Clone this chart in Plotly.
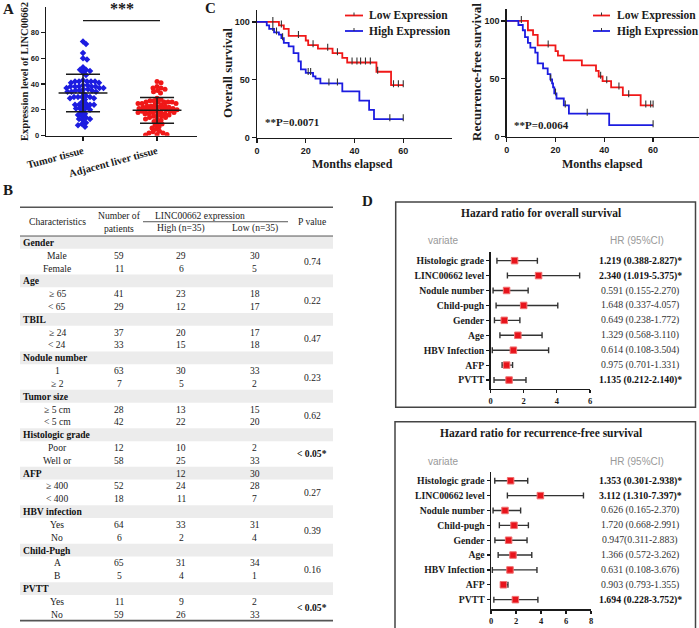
import numpy as np
import plotly.graph_objects as go

W, H = 699, 628
SERIF = "Liberation Serif"
SANS = "Liberation Sans"
INK = "#1a1a1a"
RED = "#f01818"
BLUE = "#1c1ce0"

# ---------------- Panel A data ----------------
groups_a = ["Tumor tissue", "Adjacent liver tissue"]
ylabel_a = "Expression level of LINC00662"
sig_label = "***"
tumor_vals = [73, 71, 64, 60, 59, 53, 51, 51, 50, 49, 47,
              43, 42, 42, 42, 42, 42, 41, 41,
              39, 39, 38, 38, 38, 38, 38, 37, 37, 37,
              36, 36, 35, 35, 35, 34, 34, 34, 33,
              31, 30, 30, 30, 30, 29, 29, 28,
              26, 25, 24, 24, 24, 24, 23, 22, 21, 21, 20, 20,
              18, 17, 16, 15, 14, 13, 13, 12, 10, 9, 8, 7]
adjacent_vals = [42, 41, 38, 37, 37, 36, 35, 34, 33,
                 29, 28, 27, 27, 26, 26, 26, 26, 26, 25, 25, 25,
                 24, 24, 23, 23, 23, 22, 22, 22, 21, 21, 21, 21, 20, 20, 20, 20,
                 19, 19, 19, 18, 18, 18, 18, 17, 17, 17, 16, 16,
                 15, 15, 14, 14, 13, 13, 12, 11,
                 10, 9, 8, 7, 6, 5, 3.5, 3, 2, 2, 1, 1, 0.5]

# ---------------- Panel C data ----------------
km_names = ["Low Expression", "High Expression"]
km_xlabel = "Months elapsed"
os_ylabel = "Overall survival"
rfs_ylabel = "Recurrence-free survival"
os_p = "**P=0.0071"
rfs_p = "**P=0.0064"

os_low_t = [0, 9, 11, 13, 20, 21, 25, 31, 35, 37, 49, 55, 60]
os_low_s = [100, 97, 94, 88, 84, 80, 77, 73, 69, 65, 57, 45.5, 45.5]
os_low_c = [6.5, 10, 17, 23, 29, 33, 39, 41, 42.5, 44.5, 46.5, 49.5, 56, 58, 60]
os_high_t = [0, 4, 5, 7, 9, 10, 11, 13, 15, 17, 18, 20, 23, 24, 26, 35, 42, 46, 48, 60]
os_high_s = [100, 97, 94, 91, 89, 86, 82, 79, 73, 66, 59, 56, 53, 51, 47, 40, 32, 24, 16, 16]
os_high_c = [6.5, 8, 10.5, 21, 22, 29.5, 33, 54.5, 60]

rfs_low_t = [0, 8.7, 10.8, 12.7, 20, 21, 23.4, 30.8, 36.6, 37.7, 39.3, 42.8, 47.6, 54.9, 60]
rfs_low_s = [100, 92, 88, 79, 74, 70, 66, 61.7, 56.8, 52, 48, 42.7, 36, 27, 27]
rfs_low_c = [6, 17, 38.5, 41, 46, 50, 57, 59, 60]
rfs_high_t = [0, 4.8, 6.6, 7.5, 8.7, 9.7, 11.7, 12.7, 14.9, 16.8, 17.9, 18.6, 19, 19.5, 20.4, 23.4, 25.5, 42, 60]
rfs_high_s = [100, 96.5, 92, 86, 81, 77, 72.6, 63.4, 59, 54, 49.6, 46, 42.7, 37.5, 33, 27, 20, 10, 10]
rfs_high_c = [18, 20, 24, 33, 60]

# ---------------- Panel B data ----------------
tbl_head = ["Characteristics", "Number of", "patients", "LINC00662 expression",
            "High (n=35)", "Low (n=35)", "P value"]
group_names = ["Gender", "Age", "TBIL", "Nodule number", "Tumor size",
               "Histologic grade", "AFP", "HBV infection", "Child-Pugh", "PVTT"]
group_high = ["", "", "", "", "", "", "12", "", "", ""]
group_low = ["", "", "", "", "", "", "30", "", "", ""]
sub_labels = [["Male", "Female"], ["≥ 65", "< 65"], ["≥ 24", "< 24"], ["1", "≥ 2"],
              ["≥ 5 cm", "< 5 cm"], ["Poor", "Well or"], ["≥ 400", "< 400"],
              ["Yes", "No"], ["A", "B"], ["Yes", "No"]]
sub_n = [[59, 11], [41, 29], [37, 33], [63, 7], [28, 42], [12, 58], [52, 18], [64, 6], [65, 5], [11, 59]]
sub_high = [[29, 6], [23, 12], [20, 15], [30, 5], [13, 22], [10, 25], [24, 11], [33, 2], [31, 4], [9, 26]]
sub_low = [[30, 5], [18, 17], [17, 18], [33, 2], [15, 20], [2, 33], [28, 7], [31, 4], [34, 1], [2, 33]]
p_values = ["0.74", "0.22", "0.47", "0.23", "0.62", "< 0.05*", "0.27", "0.39", "0.16", "< 0.05*"]

# ---------------- Panel D data ----------------
hr_vars = ["Histologic grade", "LINC00662 level", "Nodule number", "Child-pugh",
           "Gender", "Age", "HBV Infection", "AFP", "PVTT"]
os_title = "Hazard ratio for overall survival"
rfs_title = "Hazard ratio for recurrence-free survival"
os_pt = [1.45, 2.9, 0.97, 2.0, 0.83, 1.65, 1.38, 0.97, 1.12]
os_lo = [0.388, 1.019, 0.155, 0.337, 0.238, 0.568, 0.108, 0.701, 0.212]
os_hi = [2.827, 5.375, 2.270, 4.057, 1.772, 3.110, 3.504, 1.331, 2.140]
os_text = ["1.219 (0.388-2.827)*", "2.340 (1.019-5.375)*", "0.591 (0.155-2.270)",
           "1.648 (0.337-4.057)", "0.649 (0.238-1.772)", "1.329 (0.568-3.110)",
           "0.614 (0.108-3.504)", "0.975 (0.701-1.331)", "1.135 (0.212-2.140)*"]
rfs_pt = [1.57, 3.95, 1.12, 1.84, 1.41, 1.76, 1.52, 0.99, 1.95]
rfs_lo = [0.301, 1.310, 0.165, 0.668, 0.311, 0.572, 0.108, 0.793, 0.228]
rfs_hi = [2.938, 7.397, 2.370, 2.991, 2.883, 3.262, 3.676, 1.355, 3.752]
rfs_text = ["1.353 (0.301-2.938)*", "3.112 (1.310-7.397)*", "0.626 (0.165-2.370)",
            "1.720 (0.668-2.991)", "0.947(0.311-2.883)", "1.366 (0.572-3.262)",
            "0.631 (0.108-3.676)", "0.903 (0.793-1.355)", "1.694 (0.228-3.752)*"]


def fx(p):
    return p / W


def fy(p):
    return 1 - p / H


def swarm(vals, center, xscale, yscale, d):
    vals = np.asarray(vals, float)
    order = np.argsort(-vals, kind="stable")
    placed = []
    xs = np.zeros(len(vals))
    for i in order:
        y = vals[i] * yscale
        near = [(a, b) for a, b in placed if abs(b - y) < d]
        k = 0
        while True:
            cands = [0.0] if k == 0 else [k * 0.5, -k * 0.5]
            found = None
            for off in cands:
                if all((off - a) ** 2 + (y - b) ** 2 >= d * d for a, b in near):
                    found = off
                    break
            if found is not None:
                break
            k += 1
        placed.append((found, y))
        xs[i] = center + found / xscale
    return xs


fig = go.Figure()
ann = []
shapes = []


def pann(px_, py_, text, font, xanchor="center", yanchor="middle", **kw):
    d = dict(x=fx(px_), y=fy(py_), xref="paper", yref="paper", text=text, showarrow=False,
             xanchor=xanchor, yanchor=yanchor, font=font)
    d.update(kw)
    ann.append(d)


# ---------------- Panel A ----------------
XS_A, YS_A = 74.0, 1.2925
for idx, (vals, col, sym) in enumerate([(tumor_vals, BLUE, "diamond"), (adjacent_vals, RED, "circle")]):
    xs = swarm(vals, idx, XS_A, YS_A, 3.9)
    fig.add_trace(go.Scatter(x=xs, y=vals, mode="markers", xaxis="x", yaxis="y",
                             marker=dict(symbol=sym, size=5, color=col, line=dict(width=0)),
                             showlegend=False, hoverinfo="skip"))
    m = float(np.mean(vals))
    sd = float(np.std(vals, ddof=1))
    ex, ey = [], []
    ex += [idx - 0.33, idx + 0.33, None]; ey += [m, m, None]
    ex += [idx - 0.23, idx + 0.23, None]; ey += [m + sd, m + sd, None]
    ex += [idx - 0.23, idx + 0.23, None]; ey += [m - sd, m - sd, None]
    ex += [idx, idx, None]; ey += [m - sd, m + sd, None]
    fig.add_trace(go.Scatter(x=ex, y=ey, mode="lines", xaxis="x", yaxis="y",
                             line=dict(color=INK, width=1.5), showlegend=False, hoverinfo="skip"))

shapes.append(dict(type="line", xref="x", yref="y", x0=0, x1=1.04, y0=89, y1=89,
                   line=dict(color=INK, width=1.3)))
ann.append(dict(x=0.52, y=90, xref="x", yref="y", text=sig_label, showarrow=False,
                xanchor="center", yanchor="bottom",
                font=dict(family=SERIF, size=16, color=INK, weight="bold")))
pann(25, 72, ylabel_a, dict(family=SERIF, size=10.5, color=INK, weight="bold"), textangle=-90)

# ---------------- Panel C ----------------
def step_at(ts, ss, t):
    i = int(np.searchsorted(ts, t, side="right")) - 1
    return ss[max(i, 0)]


km_sets = [
    ("x2", "y2", [(os_low_t, os_low_s, os_low_c, RED), (os_high_t, os_high_s, os_high_c, BLUE)]),
    ("x3", "y3", [(rfs_low_t, rfs_low_s, rfs_low_c, RED), (rfs_high_t, rfs_high_s, rfs_high_c, BLUE)]),
]
for xa, ya, curves in km_sets:
    for ts, ss, cs, col in curves:
        fig.add_trace(go.Scatter(x=ts, y=ss, mode="lines", line_shape="hv", xaxis=xa, yaxis=ya,
                                 line=dict(color=col, width=1.8), showlegend=False, hoverinfo="skip"))
        cy = [step_at(ts, ss, c) + 1.2 for c in cs]
        fig.add_trace(go.Scatter(x=cs, y=cy, mode="markers", xaxis=xa, yaxis=ya,
                                 marker=dict(symbol="line-ns", size=5, line=dict(width=1.1, color="#333")),
                                 showlegend=False, hoverinfo="skip"))

LEG_F = dict(family=SERIF, size=11.5, color=INK, weight="bold")
for (lx0, lx1, tx) in [(345, 363, 367), (593, 610, 615)]:
    for k, (name, col) in enumerate(zip(km_names, [RED, BLUE])):
        yy = 15.5 + k * 15.5
        shapes.append(dict(type="line", xref="paper", yref="paper", x0=fx(lx0), x1=fx(lx1),
                           y0=fy(yy), y1=fy(yy), line=dict(color=col, width=1.8)))
        shapes.append(dict(type="line", xref="paper", yref="paper", x0=fx((lx0 + lx1) / 2),
                           x1=fx((lx0 + lx1) / 2), y0=fy(yy), y1=fy(yy - 3),
                           line=dict(color="#333", width=1)))
        pann(tx, yy, name, LEG_F, xanchor="left")

PF = dict(family=SERIF, size=11, color=INK, weight="bold")
pann(263, 122, os_p, PF, xanchor="left")
pann(512, 125, rfs_p, PF, xanchor="left")
YT = dict(family=SERIF, size=13, color=INK, weight="bold")
pann(227, 73, os_ylabel, YT, textangle=-90)
pann(477, 72, rfs_ylabel, YT, textangle=-90)
XT = dict(family=SERIF, size=12, color=INK, weight="bold")
pann(353, 164, km_xlabel, XT)
pann(602, 164, km_xlabel, XT)

# ---------------- Panel B table ----------------
TF = dict(family=SERIF, size=9.6, color="#222")
TFB = dict(family=SERIF, size=9.6, color="#111", weight="bold")
COL_SUB, COL_N, COL_HI, COL_LO, COL_P = 57, 119, 181, 254.5, 312
TX0, TX1 = 20, 333


def tann(x, y, text, font=TF, xanchor="center"):
    ann.append(dict(x=x, y=y, xref="x6", yref="y6", text=text, showarrow=False,
                    xanchor=xanchor, yanchor="middle", font=font))


tann(COL_SUB, -1.115, tbl_head[0])
tann(COL_N, -1.6, tbl_head[1])
tann(COL_N, -0.62, tbl_head[2])
tann(200, -1.6, tbl_head[3])
tann(COL_HI, -0.62, tbl_head[4])
tann(COL_LO, -0.62, tbl_head[5])
tann(COL_P, -1.115, tbl_head[6])

row = 0
for g in range(len(group_names)):
    shapes.append(dict(type="rect", xref="x6", yref="y6", x0=TX0, x1=TX1, y0=row, y1=row + 1,
                       fillcolor="#ececec", line=dict(width=0), layer="below"))
    tann(TX0 + 1, row + 0.5, group_names[g], TFB, "left")
    if group_high[g]:
        tann(COL_HI, row + 0.5, group_high[g])
    if group_low[g]:
        tann(COL_LO, row + 0.5, group_low[g])
    for j in range(2):
        r = row + 1 + j + 0.5
        tann(COL_SUB, r, sub_labels[g][j])
        tann(COL_N, r, str(sub_n[g][j]))
        tann(COL_HI, r, str(sub_high[g][j]))
        tann(COL_LO, r, str(sub_low[g][j]))
    pv = p_values[g]
    tann(COL_P, row + 2, pv, TFB if "*" in pv else TF)
    row += 3
n_rows = row

for (y, x0, x1, w) in [(-2.24, TX0, TX1, 1.6), (-1.115, 143, 288, 1.0), (0, TX0, TX1, 1.0),
                       (n_rows, TX0, TX1, 1.6)]:
    shapes.append(dict(type="line", xref="x6", yref="y6", x0=x0, x1=x1, y0=y, y1=y,
                       line=dict(color="#555", width=w)))

# ---------------- Panel D ----------------
for xa, ya, pts, lo, hi, texts, title, box, ttl_y, var_y in [
    ("x4", "y4", os_pt, os_lo, os_hi, os_text, os_title, (395.7, 695.5, 202, 407.3), 213.3, 241),
    ("x5", "y5", rfs_pt, rfs_lo, rfs_hi, rfs_text, rfs_title, (395, 695.5, 421.7, 640), 433.3, 461),
]:
    yy = list(range(len(hr_vars)))
    fig.add_trace(go.Scatter(
        x=pts, y=yy, mode="markers", xaxis=xa, yaxis=ya, showlegend=False, hoverinfo="skip",
        marker=dict(symbol="square", size=6.5, color="#e8141c", line=dict(width=1, color="#f07070")),
        error_x=dict(type="data", symmetric=False,
                     array=[h - p for h, p in zip(hi, pts)],
                     arrayminus=[p - l for p, l in zip(pts, lo)],
                     color="#333", thickness=1.4, width=3)))
    shapes.append(dict(type="rect", xref="paper", yref="paper", x0=fx(box[0]), x1=fx(box[1]),
                       y0=fy(box[3]), y1=fy(box[2]), line=dict(color="#444", width=1.5)))
    pann(541, ttl_y, title, dict(family=SERIF, size=11.5, color=INK, weight="bold"))
    pann(443, var_y, "variate", dict(family=SANS, size=10, color="#999"))
    pann(637, var_y, "HR (95%CI)", dict(family=SANS, size=10, color="#999"))
    for i, t in enumerate(texts):
        sig = t.endswith("*")
        ann.append(dict(x=fx(640), y=i, xref="paper", yref=ya, text=t, showarrow=False,
                        xanchor="center", yanchor="middle",
                        font=dict(family=SERIF, size=9.8, color="#111" if sig else "#333",
                                  weight="bold" if sig else "normal")))

# panel letters
for L, px_, py_ in [("A", 8, 9), ("B", 8, 190), ("C", 211, 8), ("D", 367, 201)]:
    pann(px_, py_, L, dict(family=SERIF, size=15, color=INK, weight="bold"))

# ---------------- axes ----------------
base = dict(showline=True, linecolor=INK, linewidth=1.4, ticks="outside", ticklen=4, tickwidth=1.2,
            tickcolor=INK, showgrid=False, zeroline=False, automargin=False, fixedrange=True)
hidden = dict(visible=False, showgrid=False, zeroline=False, automargin=False, fixedrange=True)

layout = dict(
    width=W, height=H, margin=dict(l=0, r=0, t=0, b=0),
    paper_bgcolor="white", plot_bgcolor="rgba(0,0,0,0)", showlegend=False,
    xaxis=dict(base, domain=[fx(46), fx(197)], range=[-0.5, 1.54], anchor="y",
               tickvals=[0, 1], ticktext=groups_a, tickangle=-15,
               tickfont=dict(family=SERIF, size=10.5, color=INK, weight="bold")),
    yaxis=dict(base, domain=[fy(135.7), fy(6.5)], range=[0, 100], anchor="x",
               tickvals=[0, 20, 40, 60, 80],
               tickfont=dict(family=SANS, size=7.5, color=INK, weight="bold")),
    xaxis2=dict(base, domain=[fx(257), fx(452)], range=[0, 80], anchor="y2", tickvals=[0, 20, 40, 60],
                tickfont=dict(family=SANS, size=9, color=INK, weight="bold")),
    yaxis2=dict(base, domain=[fy(137.7), fy(10.4)], range=[0, 110], anchor="x2", tickvals=[0, 50, 100],
                tickfont=dict(family=SANS, size=9, color=INK, weight="bold")),
    xaxis3=dict(base, domain=[fx(506.7), 1.0], range=[0, (699 - 506.7) / 2.44], anchor="y3",
                tickvals=[0, 20, 40, 60],
                tickfont=dict(family=SANS, size=9, color=INK, weight="bold")),
    yaxis3=dict(base, domain=[fy(136.7), fy(9.4)], range=[0, 110], anchor="x3", tickvals=[0, 50, 100],
                tickfont=dict(family=SANS, size=9, color=INK, weight="bold")),
    xaxis4=dict(base, domain=[fx(490.5), fx(590)], range=[0, 6], anchor="y4", tickvals=[0, 2, 4, 6],
                ticklen=3, tickfont=dict(family=SERIF, size=8.5, color=INK, weight="bold")),
    yaxis4=dict(base, domain=[fy(389), fy(251.7)], range=[8.6, -0.6], anchor="x4",
                tickvals=list(range(len(hr_vars))), ticktext=hr_vars, ticklen=3,
                tickfont=dict(family=SERIF, size=9.7, color=INK, weight="bold")),
    xaxis5=dict(base, domain=[fx(491), fx(591)], range=[0, 8], anchor="y5", tickvals=[0, 2, 4, 6, 8],
                ticklen=3, tickfont=dict(family=SERIF, size=8.5, color=INK, weight="bold")),
    yaxis5=dict(base, domain=[fy(609.3), fy(471.7)], range=[8.65, -0.61], anchor="x5",
                tickvals=list(range(len(hr_vars))), ticktext=hr_vars, ticklen=3,
                tickfont=dict(family=SERIF, size=9.7, color=INK, weight="bold")),
    xaxis6=dict(hidden, domain=[0, fx(350)], range=[0, 350], anchor="y6"),
    yaxis6=dict(hidden, domain=[fy(627), fy(202.7)], range=[30.5, -2.6], anchor="x6"),
    annotations=ann, shapes=shapes,
)
fig.add_trace(go.Scatter(x=[0], y=[0], xaxis="x6", yaxis="y6", mode="markers",
                         marker=dict(opacity=0), showlegend=False, hoverinfo="skip"))
fig.update_layout(**layout)
fig.write_html("out.html", config={"displayModeBar": False, "staticPlot": True},
               post_script="document.body.style.margin='0px';document.body.style.overflow='hidden';")
